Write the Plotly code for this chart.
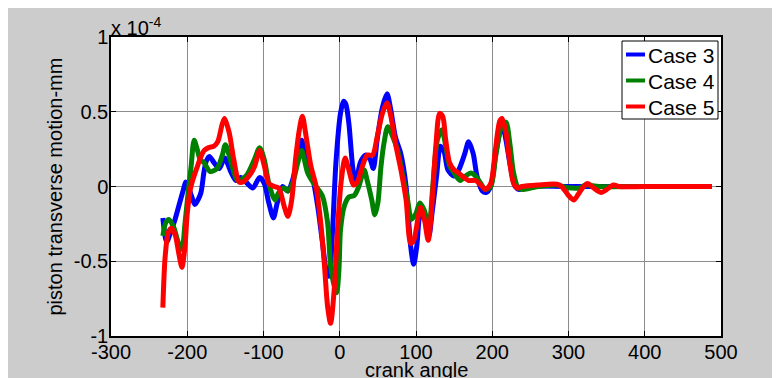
import plotly.graph_objects as go

# ---- data (values in units of 1e-4 mm) ----
case3_x = [-232, -227, -222, -216, -210, -205, -202, -198, -194, -190, -186, -182, -178, -175, -171, -165, -158, -151, -143, -136,
           -130, -123, -114, -105, -99, -93, -87, -82, -75, -68, -62, -55, -50, -44, -36, -29, -23, -17, -14, -10,
           -5, 1, 5, 8, 12, 17, 21, 27, 34, 40, 44, 49, 56, 62, 67, 73, 80, 87, 93, 97,
           101, 106, 113, 117, 121, 127, 132, 137, 142, 150, 156, 164, 169, 175, 180, 187, 192, 198, 204, 211,
           214, 218, 224, 230, 235, 245, 300, 400, 488]
case3_y = [-0.21, -0.37, -0.31, -0.22, -0.11, -0.02, 0.03, -0.01, -0.07, -0.12, -0.09, -0.04, 0.10, 0.17, 0.20, 0.16, 0.12, 0.19, 0.10, 0.04,
           0.06, 0.03, -0.01, 0.06, 0.02, -0.11, -0.21, -0.11, 0.0, -0.03, 0.04, 0.20, 0.31, 0.18, 0.07, -0.13, -0.36, -0.58, -0.60, -0.35,
           0.16, 0.49, 0.57, 0.55, 0.42, 0.13, 0.02, 0.16, 0.21, 0.18, 0.12, 0.31, 0.53, 0.62, 0.51, 0.33, 0.22, 0.0, -0.40, -0.52,
           -0.40, -0.18, -0.24, -0.33, -0.18, 0.07, 0.27, 0.23, 0.11, 0.07, 0.11, 0.22, 0.30, 0.22, 0.07, -0.03, -0.04, 0.0, 0.20, 0.38,
           0.40, 0.31, 0.13, 0.0, -0.02, 0.0, 0.0, 0.0, 0.0]

case4_x = [-232, -228, -224, -218, -212, -207, -203, -199, -195, -191, -187, -183, -178, -170, -161, -154, -150, -143, -134, -123,
           -112, -105, -99, -93, -85, -80, -73, -68, -62, -55, -50, -42, -34, -23, -16, -12, -7, -4, -1, 1,
           6, 12, 19, 25, 32, 36, 42, 46, 50, 54, 58, 63, 69, 76, 82, 89, 94, 100, 105, 111,
           117, 122, 128, 134, 139, 144, 150, 158, 165, 172, 178, 185, 191, 198, 205, 212, 218, 223, 228, 234,
           241, 260, 285, 296, 304, 315, 322, 340, 400, 488]
case4_y = [-0.33, -0.24, -0.22, -0.27, -0.37, -0.42, -0.25, -0.05, 0.13, 0.31, 0.25, 0.18, 0.16, 0.10, 0.12, 0.21, 0.28, 0.17, 0.04, 0.07,
           0.18, 0.26, 0.18, 0.02, -0.09, -0.04, -0.01, -0.03, 0.02, 0.16, 0.24, 0.09, 0.02, -0.06, -0.24, -0.53, -0.67, -0.71, -0.55, -0.29,
           -0.13, -0.07, -0.06, 0.0, 0.11, 0.04, -0.09, -0.19, -0.11, 0.13, 0.29, 0.40, 0.34, 0.24, 0.09, -0.09, -0.22, -0.18, -0.11, -0.16,
           -0.27, 0.0, 0.31, 0.38, 0.27, 0.14, 0.09, 0.04, 0.07, 0.09, 0.07, 0.02, -0.02, 0.0, 0.22, 0.40, 0.43, 0.29, 0.09, -0.01,
           -0.02, 0.0, 0.01, -0.005, -0.01, -0.01, 0.01, 0.0, 0.0, 0.0]

case5_x = [-232, -229, -225, -221, -216, -211, -207, -203, -200, -196, -193, -187, -182, -178, -172, -165, -160, -154, -151, -145,
           -139, -132, -127, -119, -112, -105, -99, -93, -86, -80, -73, -68, -63, -58, -53, -49, -44, -38, -31, -25,
           -20, -16, -12, -7, -3, 2, 7, 12, 18, 23, 30, 36, 43, 49, 56, 62, 67, 73, 81, 87,
           93, 97, 103, 106, 111, 116, 120, 126, 131, 135, 139, 144, 150, 156, 163, 169, 178, 185, 191, 198,
           204, 210, 213, 218, 223, 228, 233, 239, 260, 285, 291, 300, 307, 313, 320, 325, 333, 343, 350, 359,
           366, 400, 488]
case5_y = [-0.81, -0.47, -0.31, -0.28, -0.32, -0.45, -0.54, -0.40, -0.18, -0.02, 0.04, 0.13, 0.20, 0.24, 0.26, 0.27, 0.30, 0.42, 0.455, 0.36,
           0.18, 0.03, 0.03, 0.07, 0.13, 0.24, 0.14, 0.02, 0.0, -0.01, -0.13, -0.20, -0.09, 0.18, 0.38, 0.47, 0.33, 0.14, 0.0, -0.24,
           -0.53, -0.80, -0.915, -0.67, -0.29, 0.04, 0.19, 0.11, 0.01, 0.03, 0.14, 0.21, 0.21, 0.33, 0.49, 0.56, 0.47, 0.29, 0.09, -0.09,
           -0.38, -0.36, -0.20, -0.14, -0.22, -0.36, -0.18, 0.27, 0.49, 0.47, 0.31, 0.16, 0.11, 0.09, 0.06, 0.04, 0.04, 0.01, -0.02, 0.02,
           0.24, 0.44, 0.455, 0.36, 0.16, 0.02, -0.01, 0.0, 0.01, 0.015, 0.0, -0.06, -0.09, -0.05, 0.0, 0.02, -0.01, -0.04, -0.02, 0.01,
           0.0, 0.0, 0.0]

series_names = ["Case 3", "Case 4", "Case 5"]
series_colors = ["#0000ff", "#008000", "#ff0000"]
x_ticks = [-300, -200, -100, 0, 100, 200, 300, 400, 500]
x_ticklabels = ["-300", "-200", "-100", "0", "100", "200", "300", "400", "500"]
y_ticks = [-1, -0.5, 0, 0.5, 1]
y_ticklabels = ["-1", "-0.5", "0", "0.5", "1"]

FONT = "Liberation Sans, Arial, sans-serif"

fig = go.Figure()
for xs, ys, name, col in zip([case3_x, case4_x, case5_x], [case3_y, case4_y, case5_y], series_names, series_colors):
    fig.add_trace(go.Scatter(x=xs, y=ys, mode="lines", name=name, showlegend=False,
                             line=dict(color=col, width=5, shape="spline", smoothing=0.8)))

W, H = 780, 378
ML, MR, MT, MB = 103, 67, 29, 50
PW, PH = W - ML - MR, H - MT - MB


def fx(p):  # figure pixel -> paper x
    return (p - ML) / PW


def fy(p):  # figure pixel -> paper y
    return (H - MB - p) / PH


# legend box (drawn as a boxed key in the upper-right corner)
shapes = [dict(type="rect", xref="paper", yref="paper", x0=fx(614), x1=fx(710), y0=fy(111), y1=fy(33),
               fillcolor="white", line=dict(color="black", width=1), layer="above")]
annotations = []
for i, (name, col) in enumerate(zip(series_names, series_colors)):
    rowy = 46.5 + i * 26
    shapes.append(dict(type="line", xref="paper", yref="paper", x0=fx(618), x1=fx(637), y0=fy(rowy), y1=fy(rowy),
                       line=dict(color=col, width=4), layer="above"))
    annotations.append(dict(text=name, xref="paper", yref="paper", x=fx(638), y=fy(rowy + 1), xanchor="left",
                            yanchor="middle", showarrow=False, font=dict(family=FONT, size=21, color="black")))

annotations += [
    dict(text="x 10<sup>-4</sup>", xref="paper", yref="paper", x=0, y=1, xanchor="left", yanchor="bottom",
         showarrow=False, font=dict(family=FONT, size=20, color="black"), xshift=-2, yshift=-4),
    dict(text="crank angle", xref="paper", yref="paper", x=0.5, y=fy(349), xanchor="center", yanchor="top",
         showarrow=False, font=dict(family=FONT, size=20, color="black")),
    dict(text="piston transverse motion-mm", xref="paper", yref="paper", x=fx(46), y=0.5, xanchor="center",
         yanchor="middle", textangle=-90, showarrow=False, font=dict(family=FONT, size=20, color="black")),
]

axis_common = dict(showline=True, linecolor="black", linewidth=1.5, mirror="ticks",
                   ticks="inside", ticklen=5, tickcolor="black", tickwidth=1,
                   showgrid=True, gridcolor="#8c8c8c", gridwidth=1, zeroline=False, automargin=False,
                   ticklabelstandoff=-3,
                   tickfont=dict(family=FONT, size=20, color="black"))

fig.update_layout(
    width=W, height=H,
    margin=dict(l=ML, r=MR, t=MT, b=MB, autoexpand=False),
    paper_bgcolor="#cccccc", plot_bgcolor="white",
    font=dict(family=FONT, size=20, color="black"),
    showlegend=False,
    xaxis=dict(range=[-300, 500], tickvals=x_ticks, ticktext=x_ticklabels, **axis_common),
    yaxis=dict(range=[-1, 1], tickvals=y_ticks, ticktext=y_ticklabels, **axis_common),
    shapes=shapes,
    annotations=annotations,
)

fig.write_html("out.html")
